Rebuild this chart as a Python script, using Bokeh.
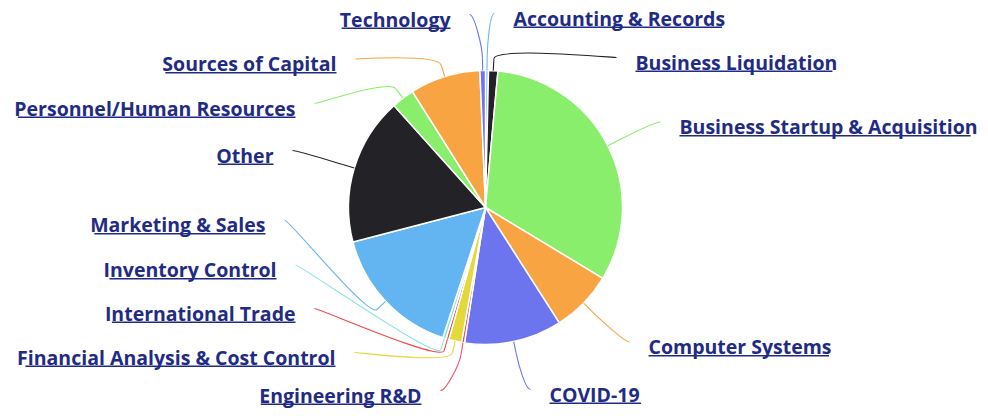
import math, struct, subprocess
from bokeh.plotting import figure
from bokeh.models import Range1d, ColumnDataSource
from bokeh.core.properties import value
from bokeh.embed import file_html
from bokeh.resources import INLINE

# ---------------- data ----------------
categories = ["Accounting & Records", "Business Liquidation", "Business Startup & Acquisition",
              "Computer Systems", "COVID-19", "Engineering R&D", "Financial Analysis & Cost Control",
              "International Trade", "Inventory Control", "Marketing & Sales", "Other",
              "Personnel/Human Resources", "Sources of Capital", "Technology"]
shares = [0.35, 1.1, 32.2, 7.3, 11.5, 0.35, 1.5, 0.35, 0.4, 15.9, 17.4, 2.7, 8.3, 0.65]
colors = ["#70b4ee", "#232327", "#88ee6c", "#f9a443", "#6d75ee", "#f0506e", "#e5d83a",
          "#f04848", "#8ae8e0", "#62b5f0", "#232327", "#88ee6c", "#f9a443", "#6d75ee"]

# ---------------- layout (picture pixel coordinates) ----------------
W, H = 980, 408
CX, CY, R = 485.0, 207.0, 137.0
label_edge_x = [513, 635, 679, 648, 549, 421, 335, 295, 276, 265, 273, 295, 336, 450]
label_cy = [17.5, 61.5, 126, 346, 393.5, 394.5, 356.5, 312.5, 269, 224, 154.5, 107.5, 63, 18.5]
label_align = ["left", "left", "left", "left", "left", "right", "right", "right", "right",
               "right", "right", "right", "right", "right"]
FONT = "Open Sans"
FSIZE = 19.5
TEXT_COLOR = "#1f2b85"


def make_width_fn():
    try:
        path = subprocess.run(["fc-match", "-f", "%{file}", FONT + ":bold"],
                              capture_output=True, text=True).stdout.strip()
        data = open(path, "rb").read()
        nt = struct.unpack(">H", data[4:6])[0]
        tables = {}
        for i in range(nt):
            tag, cs, off, ln = struct.unpack(">4sIII", data[12 + 16 * i:28 + 16 * i])
            tables[tag.decode("latin1")] = off
        head = tables["head"]
        upem = struct.unpack(">H", data[head + 18:head + 20])[0]
        hhea = tables["hhea"]
        nhm = struct.unpack(">H", data[hhea + 34:hhea + 36])[0]
        hm = tables["hmtx"]
        adv = [struct.unpack(">H", data[hm + 4 * i:hm + 4 * i + 2])[0] for i in range(nhm)]
        cm = tables["cmap"]
        n = struct.unpack(">H", data[cm + 2:cm + 4])[0]
        sub = None
        for i in range(n):
            pid, eid, off = struct.unpack(">HHI", data[cm + 4 + 8 * i:cm + 12 + 8 * i])
            fmt = struct.unpack(">H", data[cm + off:cm + off + 2])[0]
            if fmt == 4 and pid in (0, 3):
                sub = cm + off
                break
        segx2 = struct.unpack(">H", data[sub + 6:sub + 8])[0]
        seg = segx2 // 2
        ends = struct.unpack(">%dH" % seg, data[sub + 14:sub + 14 + segx2])
        starts = struct.unpack(">%dH" % seg, data[sub + 16 + segx2:sub + 16 + 2 * segx2])
        deltas = struct.unpack(">%dh" % seg, data[sub + 16 + 2 * segx2:sub + 16 + 3 * segx2])
        rpos = sub + 16 + 3 * segx2
        roffs = struct.unpack(">%dH" % seg, data[rpos:rpos + segx2])
        scale = 1.0
        if "fvar" in tables:
            scale = 1.05

        def gid(c):
            for i in range(seg):
                if starts[i] <= c <= ends[i]:
                    if roffs[i] == 0:
                        return (c + deltas[i]) & 0xFFFF
                    addr = rpos + 2 * i + roffs[i] + 2 * (c - starts[i])
                    g = struct.unpack(">H", data[addr:addr + 2])[0]
                    return (g + deltas[i]) & 0xFFFF if g else 0
            return 0

        def width(s, size):
            return scale * sum(adv[min(gid(ord(ch)), nhm - 1)] for ch in s) * size / upem
        width("Test", 10)
        return width
    except Exception:
        return lambda s, size: 0.58 * size * len(s)


text_width = make_width_fn()

# ---------------- figure ----------------
p = figure(width=W, height=H, x_range=Range1d(0, W), y_range=Range1d(-H, 0),
           output_backend="svg", toolbar_location=None, min_border=0,
           x_axis_type=None, y_axis_type=None)
p.grid.visible = False
p.outline_line_color = None
p.background_fill_color = "white"
p.border_fill_color = "white"

total = sum(shares)
cum = 0.0
starts_a, ends_a, mids = [], [], []
for v in shares:
    t0 = cum / total * 2 * math.pi
    cum += v
    t1 = cum / total * 2 * math.pi
    starts_a.append(math.pi / 2 - t1)
    ends_a.append(math.pi / 2 - t0)
    mids.append((t0 + t1) / 2)

p.wedge(x=CX, y=-CY, radius=R,
        source=ColumnDataSource(dict(s=starts_a, e=ends_a, c=colors)),
        start_angle="s", end_angle="e", fill_color="c", line_color="white", line_width=1.5)

# connectors (soft fixed-offset curves)
OFF = 12
bx0, by0, bx1, by1, bcx0, bcy0, bcx1, bcy1 = ([] for _ in range(8))
sx0, sy0, sx1, sy1 = [], [], [], []
for i, tm in enumerate(mids):
    tx, ty = CX + R * math.sin(tm), CY - R * math.cos(tm)
    kx, ky = CX + (R + OFF) * math.sin(tm), CY - (R + OFF) * math.cos(tm)
    if label_align[i] == "left":
        ex = label_edge_x[i] - 19
        c1 = ex - 5
    else:
        ex = label_edge_x[i] + 19
        c1 = ex + 5
    ey = label_cy[i] - 4.5
    bx0.append(ex); by0.append(-ey)
    bx1.append(kx); by1.append(-ky)
    bcx0.append(c1); bcy0.append(-ey)
    bcx1.append(2 * kx - tx); bcy1.append(-(2 * ky - ty))
    sx0.append(kx); sy0.append(-ky); sx1.append(tx); sy1.append(-ty)

p.bezier(x0=bx0, y0=by0, x1=bx1, y1=by1, cx0=bcx0, cy0=bcy0, cx1=bcx1, cy1=bcy1,
         line_color=colors, line_width=1.1)
p.segment(x0=sx0, y0=sy0, x1=sx1, y1=sy1, line_color=colors, line_width=1.1)

# labels with underline (text is drawn centred on its cap height at y)
p.text(x=label_edge_x, y=[-c for c in label_cy], text=categories,
       text_align=label_align, text_baseline="alphabetic",
       text_font=value(FONT), text_font_style="bold", text_font_size="%spx" % FSIZE,
       text_color=TEXT_COLOR)
ux0, ux1, uy = [], [], []
for i, cat in enumerate(categories):
    w = text_width(cat, FSIZE)
    if label_align[i] == "left":
        ux0.append(label_edge_x[i]); ux1.append(label_edge_x[i] + w)
    else:
        ux0.append(label_edge_x[i] - w); ux1.append(label_edge_x[i])
    uy.append(-(label_cy[i] + 0.357 * FSIZE + 2.2))
p.segment(x0=ux0, y0=uy, x1=ux1, y1=uy, line_color=TEXT_COLOR, line_width=1.5)

open("out.html", "w").write(file_html(p, INLINE))
